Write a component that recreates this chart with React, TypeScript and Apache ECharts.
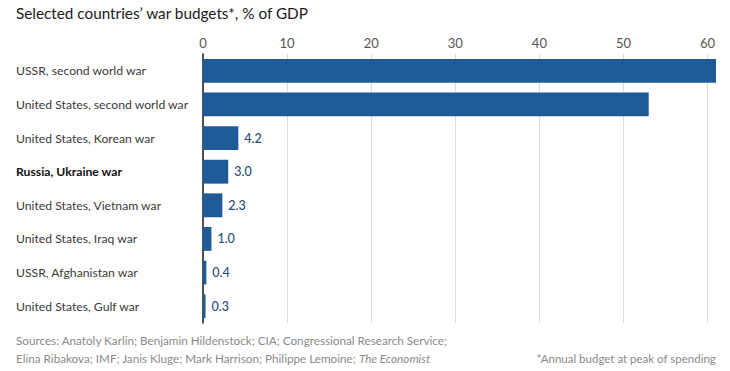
import React, { useEffect, useRef } from "react";
import * as echarts from "echarts";

const categories = [
  "USSR, second world war",
  "United States, second world war",
  "United States, Korean war",
  "Russia, Ukraine war",
  "United States, Vietnam war",
  "United States, Iraq war",
  "USSR, Afghanistan war",
  "United States, Gulf war",
];
const values = [61, 53, 4.2, 3.0, 2.3, 1.0, 0.4, 0.3];
const highlighted = "Russia, Ukraine war";
const titleText = "Selected countries\u2019 war budgets*, % of GDP";
const sourceLine1 = "Sources: Anatoly Karlin; Benjamin Hildenstock; CIA; Congressional Research Service;";
const sourceLine2a = "Elina Ribakova; IMF; Janis Kluge; Mark Harrison; Philippe Lemoine; ";
const sourceLine2b = "The Economist";
const noteText = "*Annual budget at peak of spending";

const FONT = "Lato, 'Open Sans', sans-serif";

export default function App() {
  const ref = useRef<HTMLDivElement>(null);
  useEffect(() => {
    if (!ref.current) return;
    const chart = echarts.init(ref.current, null, { renderer: "svg" });
    chart.setOption({
      animation: false,
      textStyle: { fontFamily: FONT },
      grid: { left: 203, right: 14, top: 54, bottom: 48, containLabel: false },
      graphic: [
        {
          type: "text",
          left: 16,
          top: 5,
          style: { text: titleText, fontSize: 15.3, fill: "#1a1a1a", fontFamily: FONT },
        },
        {
          type: "text",
          left: 16,
          top: 334,
          style: { text: sourceLine1, fontSize: 11.7, fill: "#8a8a8a", fontFamily: FONT },
        },
        {
          type: "text",
          left: 16,
          top: 352,
          style: {
            text: `{n|${sourceLine2a}}{i|${sourceLine2b}}`,
            fontFamily: FONT,
            rich: {
              n: { fontSize: 11.7, fill: "#8a8a8a", color: "#8a8a8a", fontFamily: FONT },
              i: { fontSize: 11.7, fill: "#8a8a8a", color: "#8a8a8a", fontStyle: "italic", fontFamily: FONT },
            },
          },
        },
        {
          type: "text",
          right: 14,
          top: 352,
          style: { text: noteText, fontSize: 11.5, fill: "#8a8a8a", fontFamily: FONT },
        },
      ],
      xAxis: {
        type: "value",
        position: "top",
        min: 0,
        max: 61,
        interval: 10,
        axisLine: { show: false },
        axisTick: { show: false },
        axisLabel: {
          color: "#555",
          fontSize: 13,
          margin: 5,
          showMaxLabel: false,
          fontFamily: FONT,
        },
        splitLine: { show: true, showMaxLine: false, lineStyle: { color: "#dcdcdc", width: 1 } },
      },
      yAxis: {
        type: "category",
        inverse: true,
        data: categories,
        axisTick: { show: false },
        axisLine: { show: true, lineStyle: { color: "#1a1a1a", width: 1.5 } },
        axisLabel: {
          align: "left",
          margin: 187,
          fontSize: 12.2,
          color: "#3a3a3a",
          fontFamily: FONT,
          formatter: (v: string) => (v === highlighted ? `{b|${v}}` : v),
          rich: {
            b: { fontWeight: "bold", color: "#111", fontSize: 12.2, fontFamily: FONT },
          },
        },
      },
      series: [
        {
          type: "bar",
          data: values,
          barWidth: "71%",
          itemStyle: { color: "#1f5b98" },
          z: 3,
          label: {
            show: true,
            position: "right",
            distance: 6,
            color: "#1f4b7a",
            fontSize: 12.5,
            fontWeight: 500,
            fontFamily: FONT,
            formatter: (p: any) => (p.value < 10 ? p.value.toFixed(1) : ""),
          },
        },
      ],
    });
    return () => chart.dispose();
  }, []);
  return <div ref={ref} style={{ width: 730, height: 371, position: "absolute", left: 0, top: 0 }} />;
}
